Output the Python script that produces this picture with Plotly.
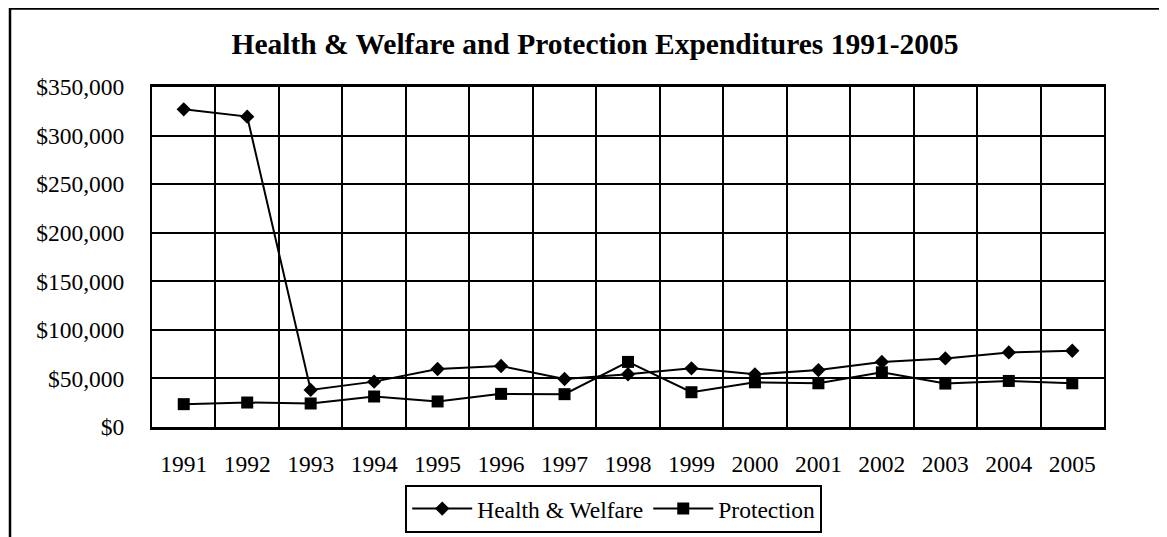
import plotly.graph_objects as go

years = ["1991", "1992", "1993", "1994", "1995", "1996", "1997", "1998",
         "1999", "2000", "2001", "2002", "2003", "2004", "2005"]
health_welfare = [327000, 319500, 38200, 46700, 59700, 62800, 49400, 54300,
                  60400, 54200, 58600, 67000, 70600, 76800, 78500]
protection = [23500, 25200, 24200, 31400, 26300, 34100, 33800, 67000,
              35800, 46000, 45000, 56300, 44700, 47400, 45000]

FONT = "Liberation Serif, Times New Roman, serif"

fig = go.Figure()
fig.add_trace(go.Scatter(
    x=years, y=health_welfare, name="Health & Welfare", mode="lines+markers",
    line=dict(color="black", width=2),
    marker=dict(symbol="diamond", size=11, color="black"),
))
fig.add_trace(go.Scatter(
    x=years, y=protection, name="Protection", mode="lines+markers",
    line=dict(color="black", width=2),
    marker=dict(symbol="square", size=12, color="black"),
))

fig.update_layout(
    width=1167, height=537,
    margin=dict(l=144, r=71, t=79, b=116),
    paper_bgcolor="white", plot_bgcolor="white",
    font=dict(family=FONT, size=23.5, color="black"),
    title=dict(text="<b>Health & Welfare and Protection Expenditures 1991-2005</b>",
               x=587 / 1167, xanchor="center", xref="container",
               y=1 - 36 / 537, yanchor="middle", yref="container",
               font=dict(family=FONT, size=29.5, color="black")),
    showlegend=True,
    legend=dict(orientation="h", x=0.485, xanchor="center", y=-0.17, yanchor="top",
                bordercolor="black", borderwidth=2, bgcolor="white",
                font=dict(family=FONT, size=23.5, color="black"),
                itemwidth=60, traceorder="normal"),
)

fig.update_xaxes(
    type="category", range=[-0.5, 14.5], tickson="boundaries",
    showgrid=True, gridcolor="black", gridwidth=2,
    showline=True, linecolor="black", linewidth=3, mirror=True,
    ticks="", ticklabelstandoff=14, zeroline=False,
)
fig.update_yaxes(
    range=[0, 350000], dtick=50000, tickprefix="$", tickformat=",",
    showgrid=True, gridcolor="black", gridwidth=2,
    showline=True, linecolor="black", linewidth=2, mirror=True,
    ticks="", ticklabelstandoff=21, zeroline=False,
)

# outer chart frame (only left and top edges visible in the view)
fig.add_shape(type="rect", xref="paper", yref="paper",
              x0=(10 - 152) / 952, x1=1.3, y0=-0.6, y1=(429 - 8) / 342,
              line=dict(color="black", width=2.5), layer="below")

fig.write_html("out.html")
